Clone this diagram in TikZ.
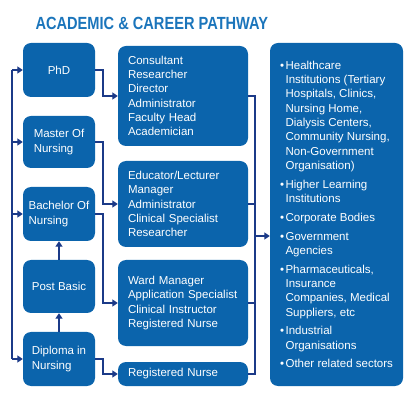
\documentclass[tikz,border=0pt]{standalone}
\usepackage{fontspec}
\usepackage{graphicx}
\setmainfont{Liberation Sans}
\usetikzlibrary{arrows.meta}

\definecolor{boxblue}{HTML}{0B64AC}
\definecolor{titleblue}{HTML}{1B75BB}
\definecolor{linkblue}{HTML}{1B3A88}

\newcommand\boxfont{\fontsize{11.5}{14.3}\selectfont}
\newcommand\bul{\makebox[5.5pt][l]{\textbullet}}
\newcommand\ind{\hspace*{5.5pt}}

\tikzset{
    degree/.style={fill=boxblue, text=white, rounded corners=8pt, minimum width=72pt,
        minimum height=54pt, inner sep=0pt, align=left, font=\boxfont},
    career/.style={fill=boxblue, text=white, rounded corners=8pt, text width=110pt,
        inner xsep=10pt, inner ysep=0pt, align=left, font=\boxfont},
    wire/.style={draw=linkblue, line width=1.5pt},
    link/.style={wire, -{Triangle[length=5.5pt,width=7pt]}},
}

\begin{document}
\begin{tikzpicture}[x=1pt, y=-1pt]
    \useasboundingbox (0,0) rectangle (415,403);
    \node[anchor=base west, text=titleblue, font=\fontsize{17.6}{20}\selectfont\bfseries]
        (title) at (32,29.5) {\scalebox{0.83}[1]{ACADEMIC \& CAREER PATHWAY}};

    % degrees
    \node[degree] (phd) at (59,70) {PhD};
    \node[degree, minimum height=52pt] (master) at (59,142) {Master Of\\Nursing};
    \node[degree] (bachelor) at (59,214) {Bachelor Of\\Nursing};
    \node[degree, minimum height=53pt] (postbasic) at (59,286.5) {Post Basic};
    \node[degree] (diploma) at (59,359) {Diploma in\\Nursing};

    % careers
    \node[career, minimum height=100pt] (jobA) at (183,96)
        {Consultant\\Researcher\\Director\\Administrator\\Faculty Head\\Academician};
    \node[career, minimum height=86pt] (jobB) at (183,204)
        {Educator/Lecturer\\Manager\\Administrator\\Clinical Specialist\\Researcher};
    \node[career, minimum height=86pt] (jobC) at (183,303)
        {Ward Manager\\Application Specialist\\Clinical Instructor\\Registered Nurse};
    \node[career, minimum height=24pt] (jobD) at (183,374) {Registered Nurse};

    % sectors
    \node[fill=boxblue, text=white, rounded corners=8pt, minimum width=133pt,
        minimum height=343pt, inner sep=0pt, align=left, font=\boxfont] (sectors) at (336.5,214.5)
        {\bul Healthcare\\\ind Institutions (Tertiary\\\ind Hospitals, Clinics,\\\ind Nursing Home,\\
         \ind Dialysis Centers,\\\ind Community Nursing,\\\ind Non-Government\\\ind Organisation)\\[4.5pt]
         \bul Higher Learning\\\ind Institutions\\[4.5pt]
         \bul Corporate Bodies\\[4.5pt]
         \bul Government\\\ind Agencies\\[4.5pt]
         \bul Pharmaceuticals,\\\ind Insurance\\\ind Companies, Medical\\\ind Suppliers, etc\\[4.5pt]
         \bul Industrial\\\ind Organisations\\[4.5pt]
         \bul Other related sectors};

    % left bus
    \coordinate (bustop) at (12,70);
    \coordinate (busbot) at (12,359);
    \draw[wire] (bustop) -- (busbot);
    \foreach \n in {phd, master, bachelor, diploma}
        \draw[link] (\n.west -| bustop) -- (\n.west);
    \draw[link] (diploma.north) -- (postbasic.south);
    \draw[link] (postbasic.north) -- (bachelor.south);

    % degree -> career
    \draw[link] (phd.east) -- ++(8,0) |- (jobA.west);
    \draw[link] (master.east) -- ++(8,0) |- (jobB.west);
    \draw[link] (bachelor.east) -- ++(8,0) |- (jobC.west);
    \draw[link] (diploma.east) -- ++(8,0) |- (jobD.west);

    % career -> sectors
    \coordinate (merge) at (255,236);
    \draw[wire] (jobA.east) -- (jobA.east -| merge) -- (jobD.east -| merge) -- (jobD.east);
    \draw[wire] (jobB.east) -- (jobB.east -| merge);
    \draw[wire] (jobC.east) -- (jobC.east -| merge);
    \draw[link] (merge) -- (merge -| sectors.west);
\end{tikzpicture}
\end{document}
